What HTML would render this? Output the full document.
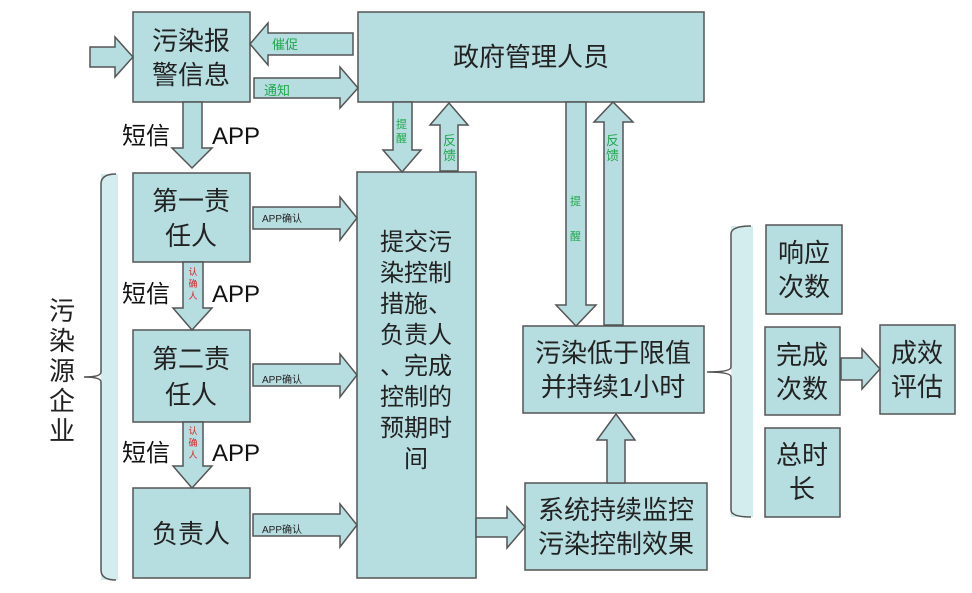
<!DOCTYPE html>
<html><head><meta charset="utf-8"><style>
html,body{margin:0;padding:0;background:#fff;}
svg{display:block;}
text{font-family:"Liberation Sans","Noto Sans CJK SC",sans-serif;}
</style></head><body>
<svg width="972" height="593" viewBox="0 0 972 593" xmlns="http://www.w3.org/2000/svg">
<g fill="#b6dde0" stroke="#555" stroke-width="1.5">
<!-- boxes -->
<rect x="133" y="12" width="117" height="90"/>
<rect x="358" y="12" width="346" height="90"/>
<rect x="133" y="173" width="117" height="89"/>
<rect x="133" y="330" width="117" height="92"/>
<rect x="133" y="488" width="117" height="90"/>
<rect x="357" y="172" width="119" height="406"/>
<rect x="523" y="326" width="181" height="87"/>
<rect x="525" y="483" width="182" height="87"/>
<rect x="766" y="225" width="76" height="89"/>
<rect x="765" y="327" width="75" height="88"/>
<rect x="765" y="428" width="75" height="89"/>
<rect x="880" y="325" width="75" height="89"/>
<!-- arrows -->
<polygon points="90,47 115,47 115,37 133,57 115,77 115,67 90,67"/>
<polygon points="353,33 268,33 268,23 250,44 268,65 268,55 353,55"/>
<polygon points="254,78 340,78 340,67 358,88 340,108 340,98 254,98"/>
<polygon points="183,102 202,102 202,148 212,148 192,168 172,148 183,148"/>
<polygon points="393,102 412,102 412,150 421,150 402,172 383,150 393,150"/>
<polygon points="440,171 458,171 458,125 468,125 449,103 430,125 440,125"/>
<polygon points="253,207 340,207 340,197 357,218 340,240 340,229 253,229"/>
<polygon points="253,364 340,364 340,354 357,375 340,397 340,386 253,386"/>
<polygon points="253,514 340,514 340,504 357,525 340,547 340,536 253,536"/>
<polygon points="183,262 203,262 203,308 212,308 192,330 173,308 183,308"/>
<polygon points="183,422 203,422 203,466 212,466 192,488 173,466 183,466"/>
<polygon points="566,102 586,102 586,305 596,305 576,326 556,305 566,305"/>
<polygon points="604,325 623,325 623,122 633,122 613,102 594,122 604,122"/>
<polygon points="607,483 625,483 625,440 635,440 616,414 597,440 607,440"/>
<polygon points="476,518 507,518 507,507 525,527 507,548 507,537 476,537"/>
<polygon points="841,358 862,358 862,349 880,369 862,389 862,380 841,380"/>
</g>
<!-- braces -->
<rect x="101" y="174" width="17" height="406" fill="#d3ecee"/>
<path d="M116,174 Q101,174 101,184 L101,372 Q101,377 84,377 Q101,377 101,382 L101,570 Q101,580 116,580" fill="none" stroke="#555" stroke-width="1.5"/>
<rect x="731" y="226" width="22" height="291" fill="#d3ecee"/>
<path d="M751,226 Q731,226 731,234 L731,367 Q731,372 707,372 Q731,372 731,377 L731,510 Q731,517 751,517" fill="none" stroke="#555" stroke-width="1.5"/>
<!-- box text -->
<g font-size="26" fill="#222" text-anchor="middle">
<text x="191" y="50">污染报</text><text x="191" y="84">警信息</text>
<text x="531" y="66">政府管理人员</text>
<text x="191" y="210">第一责</text><text x="191" y="245">任人</text>
<text x="191" y="368">第二责</text><text x="191" y="404">任人</text>
<text x="191" y="543">负责人</text>
<text x="613" y="362">污染低于限值</text><text x="613" y="396">并持续1小时</text>
<text x="616" y="519">系统持续监控</text><text x="616" y="553">污染控制效果</text>
<text x="804" y="262">响应</text><text x="804" y="296">次数</text>
<text x="802" y="364">完成</text><text x="802" y="398">次数</text>
<text x="802" y="464">总时</text><text x="802" y="498">长</text>
<text x="917" y="362">成效</text><text x="917" y="396">评估</text>
</g>
<g font-size="24" fill="#222" text-anchor="middle">
<text x="416" y="250">提交污</text><text x="416" y="281">染控制</text><text x="416" y="312">措施、</text><text x="416" y="343">负责人</text><text x="416" y="374">、完成</text><text x="416" y="405">控制的</text><text x="416" y="436">预期时</text><text x="416" y="467">间</text>
</g>
<g font-size="26" fill="#222" text-anchor="middle">
<text x="62" y="320">污</text><text x="62" y="350">染</text><text x="62" y="380">源</text><text x="62" y="410">企</text><text x="62" y="440">业</text>
</g>
<g font-size="24" fill="#111">
<text x="122" y="144">短信</text><text x="212" y="144">APP</text>
<text x="122" y="302">短信</text><text x="212" y="302">APP</text>
<text x="122" y="461">短信</text><text x="212" y="461">APP</text>
</g>
<g font-size="10" fill="#222">
<text x="262" y="222">APP确认</text><text x="262" y="383">APP确认</text><text x="262" y="533">APP确认</text>
</g>
<g font-size="13" fill="#1fa84a">
<text x="272" y="49">催促</text><text x="264" y="95">通知</text>
<text x="396" y="128" font-size="11">提</text><text x="396" y="142" font-size="11">醒</text>
<text x="443" y="145">反</text><text x="443" y="160">馈</text>
<text x="606" y="145">反</text><text x="606" y="160">馈</text>
<text x="570" y="205" font-size="11">提</text><text x="570" y="240" font-size="11">醒</text>
</g>
<g font-size="9" fill="#e02020" text-anchor="middle">
<text x="193" y="275">认</text><text x="193" y="287">确</text><text x="193" y="299">人</text>
<text x="193" y="434">认</text><text x="193" y="446">确</text><text x="193" y="458">人</text>
</g>
</svg>
</body></html>
